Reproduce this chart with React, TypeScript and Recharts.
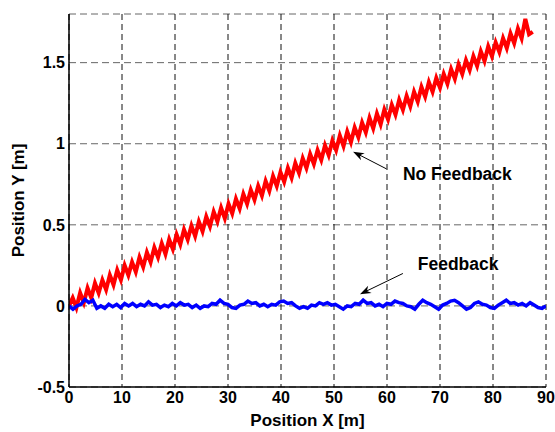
import React from 'react';
import { LineChart, Line, XAxis, YAxis, CartesianGrid, ReferenceLine, ReferenceDot } from 'recharts';

const FONT = '"Liberation Sans", Arial, Helvetica, sans-serif';

const xTicks = [0, 10, 20, 30, 40, 50, 60, 70, 80, 90];
const yTicks = [-0.5, 0, 0.5, 1, 1.5];

const redX = [0,0.7,1.4,2.1,2.8,3.5,4.2,4.9,5.6,6.3,7,7.7,8.4,9.1,9.8,10.5,11.2,11.9,12.6,13.3,14,14.7,15.4,16.1,16.8,17.5,18.2,18.9,19.6,20.3,21,21.7,22.4,23.1,23.8,24.5,25.2,25.9,26.6,27.3,28,28.7,29.4,30.1,30.8,31.5,32.2,32.9,33.6,34.3,35,35.7,36.4,37.1,37.8,38.5,39.2,39.9,40.6,41.3,42,42.7,43.4,44.1,44.8,45.5,46.2,46.9,47.6,48.3,49,49.7,50.4,51.1,51.8,52.5,53.2,53.9,54.6,55.3,56,56.7,57.4,58.1,58.8,59.5,60.2,60.9,61.6,62.3,63,63.7,64.4,65.1,65.8,66.5,67.2,67.9,68.6,69.3,70,70.7,71.4,72.1,72.8,73.5,74.2,74.9,75.6,76.3,77,77.7,78.4,79.1,79.8,80.5,81.2,81.9,82.6,83.3,84,84.7,85.4,86.1,86.8,87.5];
const redY = [
  0.00,0.05,-0.01,0.08,0.02,0.11,0.05,0.14,0.08,0.16,
  0.10,0.19,0.13,0.22,0.16,0.25,0.19,0.27,0.21,0.30,
  0.24,0.33,0.27,0.36,0.30,0.385,0.32,0.41,0.35,0.44,
  0.38,0.47,0.41,0.495,0.43,0.52,0.46,0.55,0.49,0.58,
  0.52,0.605,0.54,0.63,0.57,0.66,0.60,0.69,0.63,0.715,
  0.655,0.74,0.68,0.77,0.71,0.80,0.74,0.825,0.765,0.85,
  0.79,0.88,0.82,0.91,0.85,0.936,0.875,0.96,0.90,0.99,
  0.93,1.02,0.96,1.05,0.985,1.075,1.01,1.10,1.04,1.13,
  1.07,1.16,1.095,1.185,1.12,1.21,1.15,1.24,1.18,1.27,
  1.21,1.295,1.23,1.32,1.26,1.35,1.29,1.38,1.32,1.405,
  1.345,1.43,1.37,1.46,1.40,1.49,1.43,1.515,1.455,1.54,
  1.48,1.57,1.51,1.60,1.54,1.625,1.565,1.65,1.59,1.68,
  1.62,1.71,1.65,1.77,1.675,1.69
];

const blueX = [0,0.75,1.5,2.25,3,3.75,4.5,5.25,6,6.75,7.5,8.25,9,9.75,10.5,11.25,12,12.75,13.5,14.25,15,15.75,16.5,17.25,18,18.75,19.5,20.25,21,21.75,22.5,23.25,24,24.75,25.5,26.25,27,27.75,28.5,29.25,30,30.75,31.5,32.25,33,33.75,34.5,35.25,36,36.75,37.5,38.25,39,39.75,40.5,41.25,42,42.75,43.5,44.25,45,45.75,46.5,47.25,48,48.75,49.5,50.25,51,51.75,52.5,53.25,54,54.75,55.5,56.25,57,57.75,58.5,59.25,60,60.75,61.5,62.25,63,63.75,64.5,65.25,66,66.75,67.5,68.25,69,69.75,70.5,71.25,72,72.75,73.5,74.25,75,75.75,76.5,77.25,78,78.75,79.5,80.25,81,81.75,82.5,83.25,84,84.75,85.5,86.25,87,87.75,88.5,89.25,90];
const blueY = [
  0.00,-0.02,0.00,0.01,0.04,0.02,0.035,-0.015,0.00,-0.015,
  0.01,-0.005,0.01,-0.01,0.015,0.00,0.015,-0.005,0.01,0.00,
  0.025,0.005,0.01,-0.01,0.005,-0.005,0.015,0.00,0.02,0.005,
  0.01,-0.01,0.005,-0.015,0.00,-0.005,0.015,0.01,0.035,0.015,
  0.01,-0.01,-0.015,0.005,0.01,0.03,0.015,0.02,0.00,0.01,
  -0.005,0.01,0.005,0.025,0.03,0.015,0.02,0.00,-0.015,-0.005,
  -0.015,0.005,0.00,0.02,0.01,0.02,0.005,0.01,-0.005,-0.02,
  0.00,-0.005,0.015,0.01,0.035,0.015,0.02,0.00,0.01,-0.005,
  0.015,0.01,0.03,0.02,0.015,0.00,-0.005,-0.02,0.01,0.035,
  0.02,0.01,-0.005,-0.02,0.005,0.015,0.03,0.035,0.02,0.00,
  -0.02,-0.01,0.015,0.025,0.01,0.005,-0.01,-0.015,0.005,0.02,
  0.035,0.015,0.02,0.005,0.015,0.00,0.02,0.005,-0.01,-0.015,
  0.00
];

const annotationTexts = ['No Feedback', 'Feedback'];
const annotationX = [63.0, 65.8];
const annotationY = [0.814, 0.256];
const arrowFrom = [[59.9, 0.845], [63.0, 0.20]];
const arrowTo = [[53.6, 0.951], [54.9, 0.072]];

const redData = redX.map((x, i) => ({ x, y: redY[i] }));
const blueData = blueX.map((x, i) => ({ x, y: blueY[i] }));

const tickStyle = { fontFamily: FONT, fontSize: 16, fontWeight: 'bold', fill: '#000' };

const Arrow = (p: any) => {
  const { x1, y1, x2, y2 } = p;
  const ang = Math.atan2(y2 - y1, x2 - x1);
  const L = 11, W = 4;
  const bx = x2 - L * Math.cos(ang), by = y2 - L * Math.sin(ang);
  const px = -Math.sin(ang) * W, py = Math.cos(ang) * W;
  const nx = x2 - (L * 0.7) * Math.cos(ang), ny = y2 - (L * 0.7) * Math.sin(ang);
  return (
    <g>
      <line x1={x1} y1={y1} x2={nx} y2={ny} stroke="#000" strokeWidth={1} />
      <polygon points={`${x2},${y2} ${bx + px},${by + py} ${nx},${ny} ${bx - px},${by - py}`} fill="#000" />
    </g>
  );
};

const makeText = (t: string) => (p: any) => (
  <text x={p.cx} y={p.cy} dominantBaseline="central" textAnchor="start"
    style={{ fontFamily: FONT, fontSize: 17.5, fontWeight: 'bold', fill: '#000' }}>{t}</text>
);

const XLabel = (p: any) => {
  const vb = p.viewBox;
  return (
    <text x={vb.x + vb.width / 2} y={vb.y + 33} textAnchor="middle" dominantBaseline="central"
      style={{ fontFamily: FONT, fontSize: 17, fontWeight: 'bold', fill: '#000' }}>Position X [m]</text>
  );
};

const YLabel = (p: any) => {
  const vb = p.viewBox;
  const cx = 18;
  const cy = vb.y + vb.height / 2;
  return (
    <text x={cx} y={cy} textAnchor="middle" dominantBaseline="central" transform={`rotate(-90 ${cx} ${cy})`}
      style={{ fontFamily: FONT, fontSize: 17, fontWeight: 'bold', fill: '#000' }}>Position Y [m]</text>
  );
};

export default function App() {
  return (
    <div style={{ position: 'absolute', left: 0, top: 0, width: 555, height: 432, background: '#fff' }}>
      <LineChart width={555} height={432} margin={{ top: 14, right: 9, left: 0, bottom: 0 }}>
        <CartesianGrid horizontal vertical={false} stroke="#666" strokeDasharray="7 4" />
        <CartesianGrid horizontal={false} vertical stroke="#111" strokeDasharray="6 4" />
        <XAxis type="number" dataKey="x" domain={[0, 90]} ticks={xTicks} allowDataOverflow
          height={45} tickLine={false} tickSize={0} tickMargin={5} tick={tickStyle}
          axisLine={{ stroke: '#000', strokeWidth: 1.5 }} label={{ content: XLabel }} />
        <YAxis type="number" domain={[-0.5, 1.8]} ticks={yTicks} allowDataOverflow
          width={69} tickLine={false} tickSize={0} tickMargin={4} tick={tickStyle}
          axisLine={{ stroke: '#000', strokeWidth: 1.5 }} label={{ content: YLabel }} />
        <XAxis xAxisId="top" orientation="top" type="number" domain={[0, 90]} allowDataOverflow
          height={0} tick={false} tickLine={false} axisLine={{ stroke: '#000', strokeWidth: 1.5 }} />
        <YAxis yAxisId="right" orientation="right" type="number" domain={[-0.5, 1.8]} allowDataOverflow
          width={0} tick={false} tickLine={false} axisLine={{ stroke: '#000', strokeWidth: 1.5 }} />
        <Line data={redData} dataKey="y" type="linear" stroke="#ff0000" strokeWidth={4}
          dot={false} isAnimationActive={false} />
        <Line data={blueData} dataKey="y" type="linear" stroke="#0000ff" strokeWidth={3.5}
          dot={false} isAnimationActive={false} />
        {arrowFrom.map((f, i) => (
          <ReferenceLine key={'a' + i} segment={[{ x: f[0], y: f[1] }, { x: arrowTo[i][0], y: arrowTo[i][1] }]}
            ifOverflow="visible" shape={Arrow} />
        ))}
        {annotationTexts.map((t, i) => (
          <ReferenceDot key={'t' + i} x={annotationX[i]} y={annotationY[i]} r={0} ifOverflow="visible"
            shape={makeText(t)} />
        ))}
      </LineChart>
    </div>
  );
}
